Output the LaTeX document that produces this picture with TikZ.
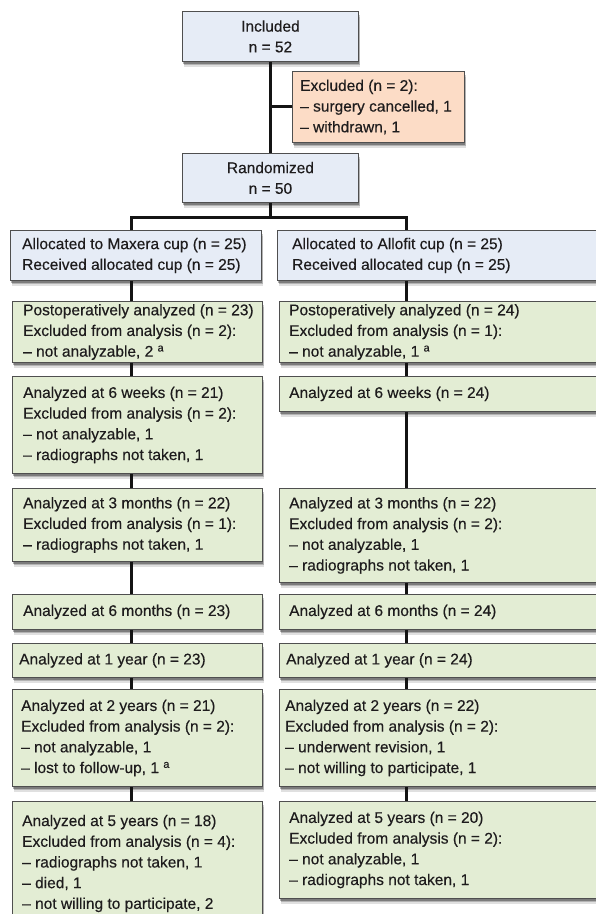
\documentclass[tikz,border=0pt]{standalone}
\usepackage{fontspec}
\setmainfont{Liberation Sans}[FakeBold=0.35]
\usetikzlibrary{shadows}
\definecolor{bluefill}{HTML}{E6ECF6}
\definecolor{greenfill}{HTML}{E3EDD4}
\definecolor{orangefill}{HTML}{FCDCC6}
\definecolor{edgecol}{HTML}{4F4F4F}
\definecolor{ink}{HTML}{1E1C1D}
\tikzset{
 basebox/.style={draw=edgecol, line width=0.9pt, anchor=north west, inner sep=0pt,
   drop shadow={shadow xshift=2pt, shadow yshift=-5.5pt, fill=black, opacity=0.12},
   drop shadow={shadow xshift=1.5pt, shadow yshift=-4pt, fill=black, opacity=0.2},
   drop shadow={shadow xshift=1pt, shadow yshift=-2.5pt, fill=black, opacity=0.3}},
 bluebox/.style={basebox, fill=bluefill},
 greenbox/.style={basebox, fill=greenfill},
 orangebox/.style={basebox, fill=orangefill},
 txt/.style={anchor=west, align=left, inner sep=0pt, text=ink, font=\fontsize{15.5}{20.7}\selectfont},
 ctxt/.style={txt, anchor=center, align=center},
 link/.style={line width=3pt, draw=black!92, line join=miter}
}
\begin{document}
\begin{tikzpicture}[x=1pt,y=-1pt]
\useasboundingbox[fill=white] (0,0) rectangle (596,914);
\coordinate (cl) at (131,0);
\coordinate (cr) at (406,0);
% top part
\node[bluebox, minimum width=176pt, minimum height=50pt] (inc) at (182,11) {};
\node[ctxt] (inct) at (inc.center) {Included\\n = 52};
\node[orangebox, minimum width=172pt, minimum height=71pt] (exc) at (292,71) {};
\node[txt] (exct) at ([xshift=8pt]exc.west) {Excluded (n = 2):\\– surgery cancelled, 1\\– withdrawn, 1};
\node[bluebox, minimum width=176pt, minimum height=49pt] (rnd) at (182,153) {};
\node[ctxt] (rndt) at (rnd.center) {Randomized\\n = 50};
\coordinate (sp) at (rnd.south |- 0,217);
% left column
\node[bluebox, minimum width=251pt, minimum height=50pt] (al) at (10,230) {};
\node[txt] (alt) at ([xshift=12pt]al.west) {Allocated to Maxera cup (n = 25)\\Received allocated cup (n = 25)};
\node[greenbox, minimum width=250pt, minimum height=61pt] (pl) at (12,301) {};
\node[txt] (plt) at ([xshift=11pt]pl.west) {Postoperatively analyzed (n = 23)\\Excluded from analysis (n = 2):\\– not analyzable, 2 \textsuperscript{a}};
\node[greenbox, minimum width=250pt, minimum height=97pt] (wl) at (12,376) {};
\node[txt] (wlt) at ([xshift=11pt]wl.west) {Analyzed at 6 weeks (n = 21)\\Excluded from analysis (n = 2):\\– not analyzable, 1\\– radiographs not taken, 1};
\node[greenbox, minimum width=250pt, minimum height=73pt] (ml) at (12,488) {};
\node[txt] (mlt) at ([xshift=11pt]ml.west) {Analyzed at 3 months (n = 22)\\Excluded from analysis (n = 1):\\– radiographs not taken, 1};
\node[greenbox, minimum width=250pt, minimum height=35pt] (sl) at (12,594) {};
\node[txt] (slt) at ([xshift=11pt]sl.west) {Analyzed at 6 months (n = 23)};
\node[greenbox, minimum width=250pt, minimum height=34pt] (yl) at (12,643) {};
\node[txt] (ylt) at ([xshift=7pt]yl.west) {Analyzed at 1 year (n = 23)};
\node[greenbox, minimum width=250pt, minimum height=97pt] (tl) at (12,689) {};
\node[txt] (tlt) at ([xshift=9pt]tl.west) {Analyzed at 2 years (n = 21)\\Excluded from analysis (n = 2):\\– not analyzable, 1\\– lost to follow-up, 1 \textsuperscript{a}};
\node[greenbox, minimum width=250pt, minimum height=124pt] (fl) at (12,801) {};
\node[txt] (flt) at ([xshift=10pt]fl.west) {Analyzed at 5 years (n = 18)\\Excluded from analysis (n = 4):\\– radiographs not taken, 1\\– died, 1\\– not willing to participate, 2};
% right column
\node[bluebox, minimum width=330pt, minimum height=50pt] (ar) at (277,230) {};
\node[txt] (art) at ([xshift=15pt]ar.west) {Allocated to Allofit cup (n = 25)\\Received allocated cup (n = 25)};
\node[greenbox, minimum width=330pt, minimum height=61pt] (pr) at (279,301) {};
\node[txt] (prt) at ([xshift=10pt]pr.west) {Postoperatively analyzed (n = 24)\\Excluded from analysis (n = 1):\\– not analyzable, 1 \textsuperscript{a}};
\node[greenbox, minimum width=330pt, minimum height=35pt] (wr) at (279,376) {};
\node[txt] (wrt) at ([xshift=10pt]wr.west) {Analyzed at 6 weeks (n = 24)};
\node[greenbox, minimum width=330pt, minimum height=94pt] (mr) at (279,488) {};
\node[txt] (mrt) at ([xshift=10pt]mr.west) {Analyzed at 3 months (n = 22)\\Excluded from analysis (n = 2):\\– not analyzable, 1\\– radiographs not taken, 1};
\node[greenbox, minimum width=330pt, minimum height=35pt] (sr) at (279,594) {};
\node[txt] (srt) at ([xshift=10pt]sr.west) {Analyzed at 6 months (n = 24)};
\node[greenbox, minimum width=330pt, minimum height=34pt] (yr) at (279,643) {};
\node[txt] (yrt) at ([xshift=7pt]yr.west) {Analyzed at 1 year (n = 24)};
\node[greenbox, minimum width=330pt, minimum height=97pt] (tr) at (279,689) {};
\node[txt] (trt) at ([xshift=6pt]tr.west) {Analyzed at 2 years (n = 22)\\Excluded from analysis (n = 2):\\– underwent revision, 1\\– not willing to participate, 1};
\node[greenbox, minimum width=330pt, minimum height=97pt] (fr) at (279,801) {};
\node[txt] (frt) at ([xshift=10pt]fr.west) {Analyzed at 5 years (n = 20)\\Excluded from analysis (n = 2):\\– not analyzable, 1\\– radiographs not taken, 1};
% connectors
\draw[link] (inc.south) -- (rnd.north);
\draw[link] (exc.west) -- (exc.west -| inc.south);
\draw[link] (rnd.south) -- (sp);
\draw[link] (al.north -| cl) -- (sp -| cl) -- (sp -| cr) -- (ar.north -| cr);
\draw[link] (al.south -| cl) -- (pl.north -| cl);
\draw[link] (pl.south -| cl) -- (wl.north -| cl);
\draw[link] (wl.south -| cl) -- (ml.north -| cl);
\draw[link] (ml.south -| cl) -- (sl.north -| cl);
\draw[link] (sl.south -| cl) -- (yl.north -| cl);
\draw[link] (yl.south -| cl) -- (tl.north -| cl);
\draw[link] (tl.south -| cl) -- (fl.north -| cl);
\draw[link] (ar.south -| cr) -- (pr.north -| cr);
\draw[link] (pr.south -| cr) -- (wr.north -| cr);
\draw[link] (wr.south -| cr) -- (mr.north -| cr);
\draw[link] (mr.south -| cr) -- (sr.north -| cr);
\draw[link] (sr.south -| cr) -- (yr.north -| cr);
\draw[link] (yr.south -| cr) -- (tr.north -| cr);
\draw[link] (tr.south -| cr) -- (fr.north -| cr);
\end{tikzpicture}
\end{document}
